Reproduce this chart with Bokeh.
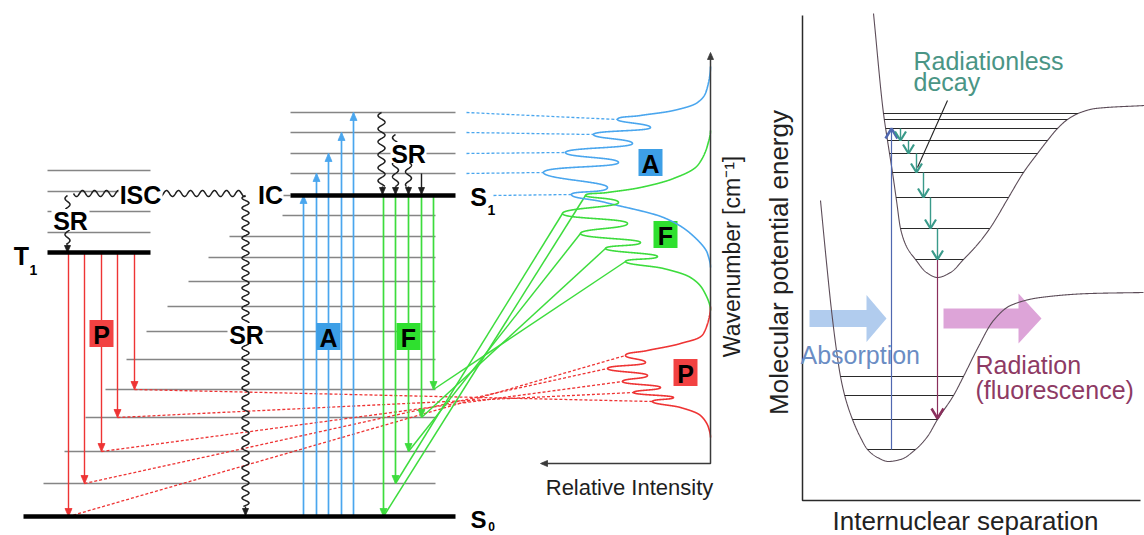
import numpy as np
from bokeh.plotting import figure
from bokeh.models import Range1d
from bokeh.core.properties import value
from bokeh.embed import file_html
from bokeh.resources import INLINE

W, H = 1144, 535
FONT = "Liberation Sans"

# ---------------------------------------------------------------------------
# Jablonski diagram: electronic states and their vibrational sub-levels
# (canvas units, y grows downward = lower energy)
s0_y = 516
s0_x = (23, 455)
s0_vib_y = [483, 451, 417, 389, 359, 331, 306, 281, 257, 236, 215]
s0_vib_x0 = [43, 64, 85, 105, 126, 146, 167, 188, 208, 229, 282]
s0_vib_x1 = 435
s1_y = 195
s1_x = (290, 455)
s1_vib_y = [173, 153, 132, 112]
t1_y = 252
t1_x = (47, 150)
t1_vib_y = [232, 211, 191, 170]

# radiative transitions: arrow x position and the level each arrow ends on
abs_x = [303, 316, 328, 341, 353]
abs_to = [195, 173, 153, 132, 112]
flu_x = [383, 395, 408, 421, 433]
flu_to = [516, 483, 451, 417, 389]
pho_x = [68, 84, 101, 117, 134]
pho_to = [516, 483, 451, 417, 389]

# ---------------------------------------------------------------------------
# spectra against the wavenumber axis (relative intensity grows to the left)
spec_axis_x = 710
spec_axis_top = 52
spec_axis_bottom = 463
spec_axis_left = 540

abs_band_y = [66, 90, 102, 110, 115, 119, 127, 134, 143, 152, 162, 172, 187, 194, 202, 217, 233, 253, 267]
abs_band_i = [0, 4, 13, 37, 70, 93, 60, 117, 78, 145, 92, 167, 103, 139, 105, 47, 20, 3, 0]
flu_band_y = [130, 145, 165, 178, 187, 192, 195, 202, 213, 223, 233, 242, 248, 256, 261, 268, 277, 290, 310]
flu_band_i = [0, 3, 13, 37, 70, 103, 125, 92, 148, 83, 130, 70, 105, 53, 85, 47, 20, 7, 0]
pho_band_y = [306, 333, 343, 350, 355, 362, 368, 375, 381, 387, 392, 397, 401, 407, 415, 427, 437]
pho_band_i = [0, 7, 30, 63, 85, 65, 103, 63, 88, 50, 77, 37, 58, 30, 10, 2, 0]

abs_peak_y = [194, 172, 152, 134, 119]
abs_link_x0 = [493, 466, 466, 466, 466]
flu_peak_y = [195, 213, 233, 248, 261]
pho_peak_y = [355, 368, 381, 392, 401]

# ---------------------------------------------------------------------------
# potential energy curves (excited state above, ground state below)
upper_x = [873, 883, 887, 892, 896, 900, 906, 915, 926, 937, 950, 963, 977, 990, 1008, 1023, 1037, 1047, 1057, 1067, 1080, 1095, 1144]
upper_y = [13, 113, 140, 172, 200, 228, 246, 259, 272, 277, 272, 259, 244, 227, 197, 172, 153, 140, 128, 119, 112, 108, 105]
upper_levels = [113, 119, 128, 140, 153, 172, 197, 228, 259]
lower_x = [820, 826, 831, 836, 840, 845, 852, 860, 867, 877, 888, 900, 915, 927, 937, 953, 963, 977, 993, 1010, 1040, 1090, 1143]
lower_y = [200, 262, 310, 350, 376, 398, 419, 437, 449, 457, 461, 459, 449, 436, 419, 395, 376, 348, 320, 305, 297, 293, 292]
lower_levels = [376, 395, 419, 449]
absorption_x, absorption_y = 891, (449, 128)
radiation_x, radiation_y = 937, (259, 418)
decay_x = [900, 908, 916, 923, 930, 937]
decay_from = [128, 140, 153, 172, 197, 228]
decay_to = [140, 153, 172, 197, 228, 259]
panel_axis_x, panel_axis_y = 802, 500


def hermite(vk, mk, s):
    """Cubic Hermite on a unit-spaced parameter."""
    vk = np.asarray(vk, float)
    mk = np.asarray(mk, float)
    idx = np.clip(np.floor(s).astype(int), 0, len(vk) - 2)
    t = s - idx
    h00 = 2 * t**3 - 3 * t**2 + 1
    h10 = t**3 - 2 * t**2 + t
    h01 = -2 * t**3 + 3 * t**2
    h11 = t**3 - t**2
    return h00 * vk[idx] + h10 * mk[idx] + h01 * vk[idx + 1] + h11 * mk[idx + 1]


def monotone_slopes(v, xk=None):
    v = np.asarray(v, float)
    h = np.ones(len(v) - 1) if xk is None else np.diff(np.asarray(xk, float))
    d = np.diff(v) / h
    m = np.zeros(len(v))
    for i in range(1, len(v) - 1):
        if d[i - 1] * d[i] > 0:
            w1 = 2 * h[i] + h[i - 1]
            w2 = h[i] + 2 * h[i - 1]
            m[i] = (w1 + w2) / (w1 / d[i - 1] + w2 / d[i])
    return m, d, h


def band_curve(band_y, band_i, tip=1.6):
    """Smooth band contour through the read extrema, with rounded turns."""
    y = np.asarray(band_y, float)
    mi, _, _ = monotone_slopes(band_i)
    dy = np.diff(y)
    my = np.zeros(len(y))
    my[0], my[-1] = dy[0], dy[-1]
    for i in range(1, len(y) - 1):
        base = 0.5 * (dy[i - 1] + dy[i])
        if mi[i] == 0:
            base = min(base * tip, 2.8 * min(dy[i - 1], dy[i]))
        my[i] = base
    s = np.linspace(0, len(y) - 1, 2400)
    return spec_axis_x - hermite(band_i, mi, s), hermite(y, my, s)


def curve(xk, yk, n=900):
    xk = np.asarray(xk, float)
    m, d, h = monotone_slopes(yk, xk)
    m[0], m[-1] = d[0], d[-1]
    xs = np.linspace(xk[0], xk[-1], n)
    idx = np.clip(np.searchsorted(xk, xs) - 1, 0, len(xk) - 2)
    t = (xs - xk[idx]) / h[idx]
    yk = np.asarray(yk, float)
    ys = ((2 * t**3 - 3 * t**2 + 1) * yk[idx] + (t**3 - 2 * t**2 + t) * h[idx] * m[idx]
          + (-2 * t**3 + 3 * t**2) * yk[idx + 1] + (t**3 - t**2) * h[idx] * m[idx + 1])
    return xs, ys


def wavy(x0, y0, x1, y1, amp, wl):
    L = np.hypot(x1 - x0, y1 - y0)
    t = np.linspace(0, L, int(L * 3) + 2)
    ux, uy = (x1 - x0) / L, (y1 - y0) / L
    off = amp * np.sin(2 * np.pi * t / wl)
    return x0 + ux * t - uy * off, y0 + uy * t + ux * off


p = figure(width=W, height=H, x_range=Range1d(0, W), y_range=Range1d(H, 0),
           output_backend="svg", toolbar_location=None,
           x_axis_type=None, y_axis_type=None, min_border=0,
           outline_line_color=None)
p.grid.visible = False
p.background_fill_color = "white"
p.border_fill_color = "white"


def text(x, y, s, size, color="black", bold=False, align="center", baseline="middle", angle=0.0):
    p.text(x=[x], y=[y], text=[s], text_font=value(FONT), text_font_size=f"{size}px",
           text_font_style="bold" if bold else "normal", text_color=color,
           text_align=align, text_baseline=baseline, angle=angle)


def heads(tx, ty, ux, uy, color, length=8.0, half=3.5):
    """Filled triangular arrow heads with tips at (tx, ty), pointing along (ux, uy)."""
    xs, ys = [], []
    for x, y, a, b in zip(tx, ty, ux, uy):
        bx, by = x - a * length, y - b * length
        xs.append([x, bx - b * half, bx + b * half])
        ys.append([y, by + a * half, by - a * half])
    p.patches(xs, ys, fill_color=color, line_color=color, line_width=0.8)


def vees(tx, ty, ux, uy, color, width, length=10.0, half=6.0):
    xs, ys = [], []
    for x, y, a, b in zip(tx, ty, ux, uy):
        bx, by = x - a * length, y - b * length
        xs.append([bx - b * half, x, bx + b * half])
        ys.append([by + a * half, y, by - a * half])
    p.multi_line(xs, ys, line_color=color, line_width=width)


def vertical_arrows(xs, y0s, y1s, color, width, head_len=8.0, half=3.5):
    p.segment(x0=xs, y0=y0s, x1=xs, y1=y1s, line_color=color, line_width=width)
    dirs = [1.0 if b > a else -1.0 for a, b in zip(y0s, y1s)]
    heads(xs, y1s, [0.0] * len(xs), dirs, color, head_len, half)


BLUE, GREEN, RED = "#4aa6ee", "#3ddc3d", "#ee3434"
GRAY = "#858585"
WAVE = "#1e1e1e"

# ---------------- vibrational sub-levels (gray)
p.segment(x0=s0_vib_x0, y0=s0_vib_y, x1=[s0_vib_x1] * len(s0_vib_y), y1=s0_vib_y,
          line_color=GRAY, line_width=1.6)
p.segment(x0=[s1_x[0]] * len(s1_vib_y), y0=s1_vib_y, x1=[s1_x[1]] * len(s1_vib_y), y1=s1_vib_y,
          line_color=GRAY, line_width=1.6)
p.segment(x0=[t1_x[0]] * len(t1_vib_y), y0=t1_vib_y, x1=[t1_x[1]] * len(t1_vib_y), y1=t1_vib_y,
          line_color=GRAY, line_width=1.6)
p.segment(x0=[278], y0=[s1_y], x1=[s1_x[0]], y1=[s1_y], line_color=GRAY, line_width=1.6)

# ---------------- links from the levels to the band peaks
band_a = band_curve(abs_band_y, abs_band_i)
band_f = band_curve(flu_band_y, flu_band_i)
band_p = band_curve(pho_band_y, pho_band_i)
abs_peak_x = [spec_axis_x - abs_band_i[abs_band_y.index(y)] for y in abs_peak_y]
flu_peak_x = [spec_axis_x - flu_band_i[flu_band_y.index(y)] for y in flu_peak_y]
pho_peak_x = [spec_axis_x - pho_band_i[pho_band_y.index(y)] for y in pho_peak_y]

p.segment(x0=abs_link_x0, y0=abs_to, x1=abs_peak_x, y1=abs_peak_y,
          line_color=BLUE, line_width=1.3, line_dash="3 2")
p.segment(x0=pho_x, y0=pho_to, x1=pho_peak_x, y1=pho_peak_y,
          line_color=RED, line_width=1.3, line_dash="3 2")
p.segment(x0=flu_x, y0=flu_to, x1=flu_peak_x, y1=flu_peak_y,
          line_color=GREEN, line_width=1.5)

# ---------------- radiative transitions
vertical_arrows(abs_x, [s0_y] * 5, abs_to, BLUE, 1.7)
vertical_arrows(flu_x, [s1_y] * 5, flu_to, GREEN, 1.7)
vertical_arrows(pho_x, [t1_y] * 5, pho_to, RED, 1.4)

# ---------------- non-radiative transitions (wavy)
for (x0, y0, x1, y1, a, wl) in [
    (73, 193, 245, 193, 3.0, 12),
    (67, 195, 67, 244, 2.5, 12),
    (245, 195, 245, 506, 3.5, 10),
    (381, 112, 381, 186, 3.5, 13),
    (395, 134, 395, 186, 3.0, 13),
    (408, 155, 408, 186, 3.0, 13),
]:
    wx, wy = wavy(x0, y0, x1, y1, a, wl)
    p.line(wx, wy, line_color=WAVE, line_width=1.5)
vertical_arrows([67, 245, 382, 395, 408, 421], [244, 506, 186, 186, 186, 173],
                [252, 515, 194, 194, 194, 194], WAVE, 1.4, head_len=7, half=3)

# ---------------- electronic states (thick)
p.segment(x0=[s0_x[0], s1_x[0], t1_x[0]], y0=[s0_y, s1_y, t1_y],
          x1=[s0_x[1], s1_x[1], t1_x[1]], y1=[s0_y, s1_y, t1_y],
          line_color="black", line_width=4.5)

# ---------------- labels with white backing
p.rect(x=[140, 270, 70, 246, 408], y=[193, 193, 219, 333, 152],
       width=[44, 26, 38, 38, 36], height=[21, 21, 21, 21, 21],
       fill_color="white", line_color=None)
text(140, 194, "ISC", 25, bold=True)
text(270, 194, "IC", 25, bold=True)
text(70, 220, "SR", 25, bold=True)
text(246, 334, "SR", 25, bold=True)
text(408, 153, "SR", 25, bold=True)

text(21, 255, "T", 25, bold=True)
text(33, 269, "1", 14, bold=True)
text(478, 196, "S", 25, bold=True)
text(491, 209, "1", 14, bold=True)
text(478, 519, "S", 24, bold=True)
text(491, 526, "0", 12, bold=True)

# boxed letters
box_x = [101, 328, 408, 650, 665, 685]
box_y = [333, 336, 336, 162, 234, 372]
box_c = ["#f24242", "#3d9fe6", "#2fe02f", "#3d9fe6", "#2fe02f", "#f24242"]
box_t = ["P", "A", "F", "A", "F", "P"]
p.rect(x=box_x, y=box_y, width=24, height=27, fill_color=box_c, line_color=None)
for bx, by, bt in zip(box_x, box_y, box_t):
    text(bx, by + 1, bt, 25, bold=True)

# ---------------- spectra
for (bx, by), col in [(band_a, BLUE), (band_f, GREEN), (band_p, RED)]:
    p.line(bx, by, line_color=col, line_width=1.6)

AX = "#3a3a3a"
p.line([spec_axis_x, spec_axis_x, spec_axis_left + 4], [spec_axis_top + 4, spec_axis_bottom, spec_axis_bottom],
       line_color=AX, line_width=1.5)
heads([spec_axis_x, spec_axis_left], [spec_axis_top, spec_axis_bottom], [0, -1], [-1, 0], AX, 7, 3)
text(629, 487, "Relative Intensity", 22, color="#1e1e1e")
text(731, 256, "Wavenumber [cm\u207b\u00b9]", 23, color="#1e1e1e", angle=np.pi / 2)

# ---------------------------------------------------------------------------
# potential energy panel
arrow_x0 = [809, 943]
arrow_x1 = [886, 1041]
arrow_yc = [318, 318]
arrow_shaft = [17, 20]
arrow_head_w = [47, 50]
arrow_head_len = [20, 23]
arrow_col = ["#a9c7ec", "#d99ad4"]
for x0, x1, yc, s, hw, hl, c in zip(arrow_x0, arrow_x1, arrow_yc, arrow_shaft,
                                      arrow_head_w, arrow_head_len, arrow_col):
    xs = [x0, x1 - hl, x1 - hl, x1, x1 - hl, x1 - hl, x0]
    ys = [yc - s / 2, yc - s / 2, yc - hw / 2, yc, yc + hw / 2, yc + s / 2, yc + s / 2]
    p.patch(xs, ys, fill_color=c, fill_alpha=0.9, line_color=None)

p.line([panel_axis_x, panel_axis_x, 1140], [15, panel_axis_y, panel_axis_y],
       line_color="#2a2a2a", line_width=1.5)

CURVE = "#5c4c58"
for cx, cy, levels in [(upper_x, upper_y, upper_levels), (lower_x, lower_y, lower_levels)]:
    xs, ys = curve(cx, cy)
    p.line(xs, ys, line_color=CURVE, line_width=1.1)
    k = int(np.argmax(ys))
    xl, yl = xs[:k + 1], ys[:k + 1]
    xr, yr = xs[k:], ys[k:]
    lx = [float(np.interp(lv, yl, xl)) for lv in levels]
    rx = [float(np.interp(lv, yr[::-1], xr[::-1])) for lv in levels]
    p.segment(x0=lx, y0=levels, x1=rx, y1=levels, line_color="#2a2a2a", line_width=1.2)

ABS_C, RAD_C, DEC_C = "#5068b0", "#8a2f5c", "#3a9a8a"
p.segment(x0=[absorption_x, radiation_x], y0=[absorption_y[0], radiation_y[0]],
          x1=[absorption_x, radiation_x], y1=[absorption_y[1], radiation_y[1]],
          line_color=[ABS_C, RAD_C], line_width=1.2)
vees([absorption_x], [absorption_y[1]], [0], [-1], ABS_C, 2.5, 10, 6)
vees([radiation_x], [radiation_y[1]], [0], [1], RAD_C, 2.5, 10, 6)
p.segment(x0=decay_x, y0=decay_from, x1=decay_x, y1=decay_to, line_color=DEC_C, line_width=1.4)
vees(decay_x, decay_to, [0] * 6, [1] * 6, DEC_C, 2.2, 9, 5.5)
p.line([947, 917], [100, 167], line_color="#222222", line_width=1.1)

TEAL = "#4a9585"
text(913, 60, "Radiationless", 25, color=TEAL, align="left")
text(913, 81, "decay", 25, color=TEAL, align="left")
text(800, 354, "Absorption", 25, color="#6b8dc4", align="left")
text(975, 364, "Radiation", 25, color="#8e3a64", align="left")
text(975, 389, "(fluorescence)", 25, color="#8e3a64", align="left")
text(965, 520, "Internuclear separation", 26, color="#222222")
text(778, 262, "Molecular potential energy", 26, color="#222222", angle=np.pi / 2)

open("out.html", "w").write(file_html(p, INLINE))
